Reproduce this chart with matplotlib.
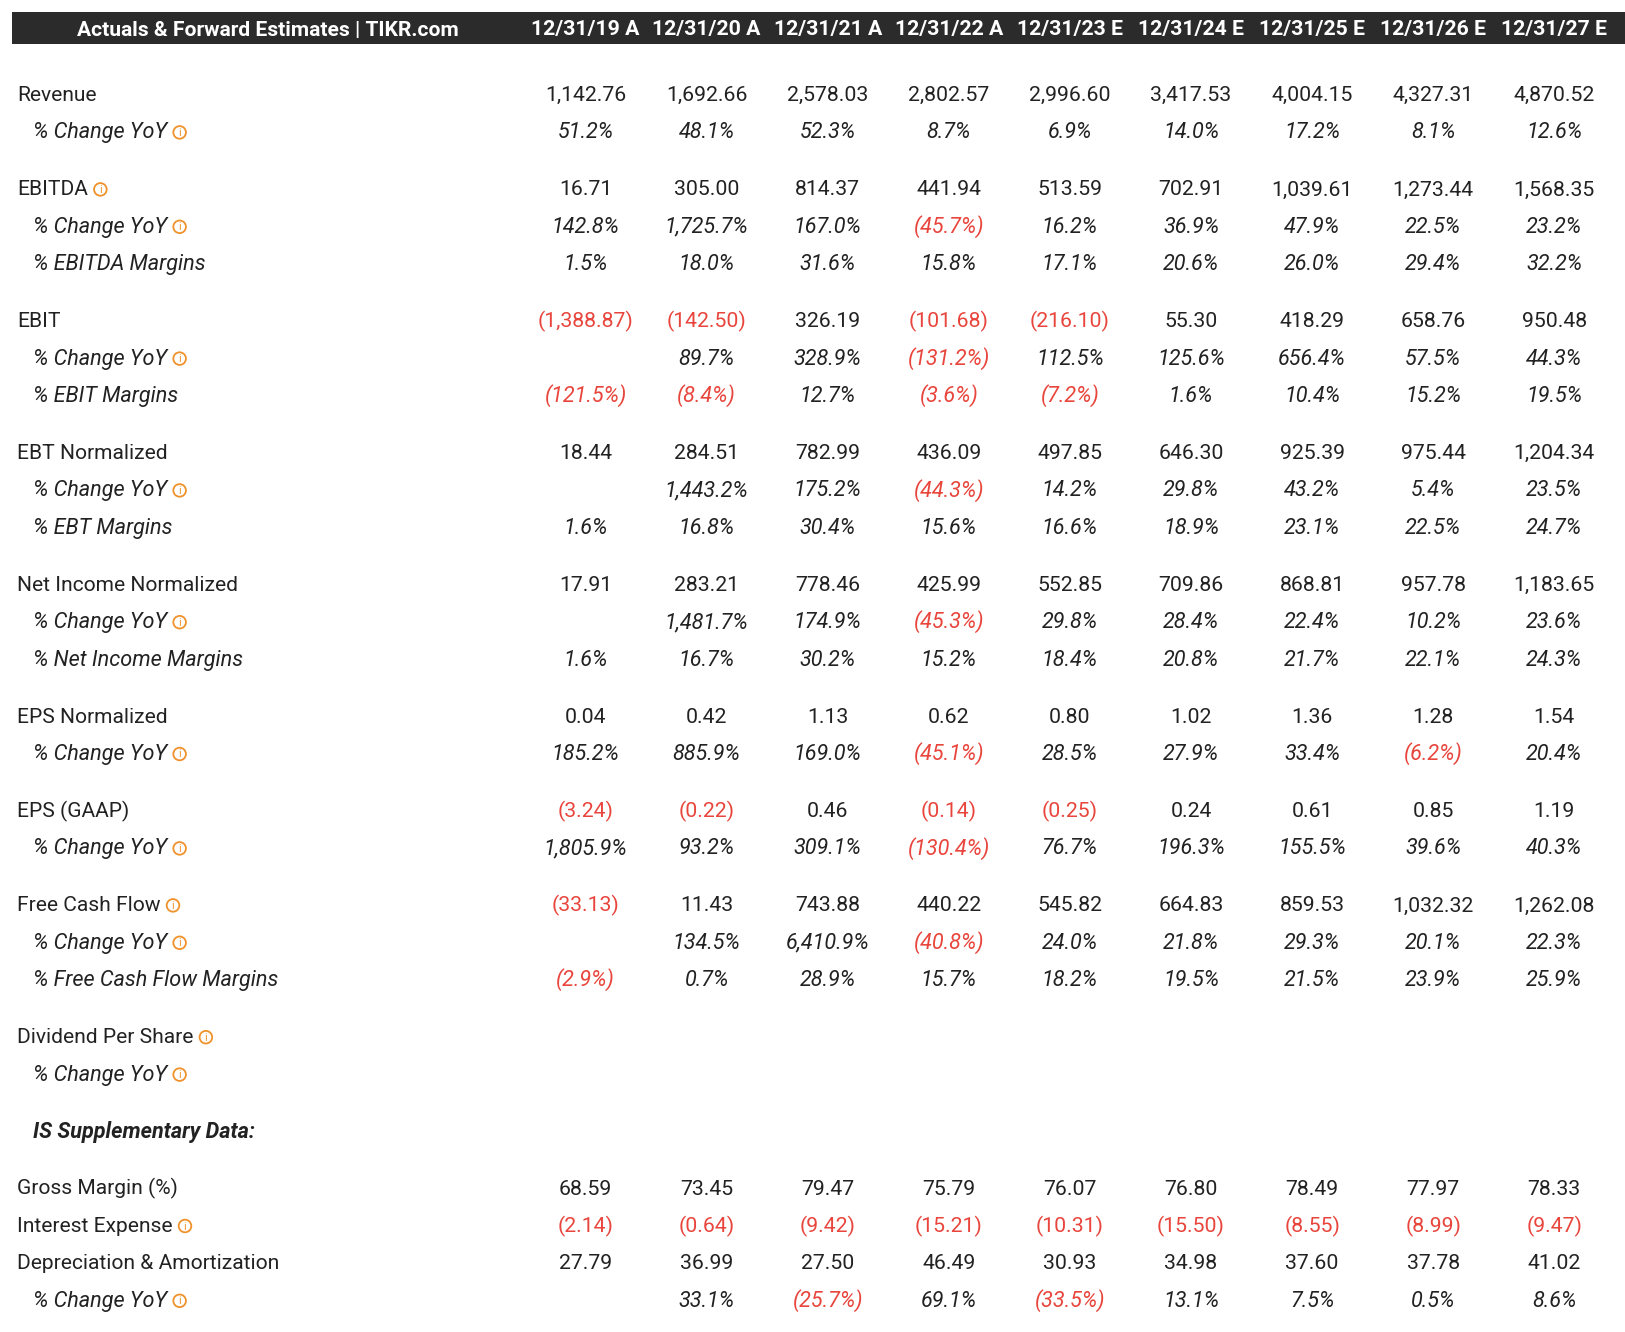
import matplotlib
matplotlib.use("Agg")
import matplotlib.pyplot as plt
from matplotlib.patches import Rectangle, Circle

# ---------------- data ----------------
title = "Actuals & Forward Estimates | TIKR.com"
periods = ["12/31/19 A", "12/31/20 A", "12/31/21 A", "12/31/22 A", "12/31/23 E",
           "12/31/24 E", "12/31/25 E", "12/31/26 E", "12/31/27 E"]

revenue = [1142.76, 1692.66, 2578.03, 2802.57, 2996.60, 3417.53, 4004.15, 4327.31, 4870.52]
revenue_yoy = [51.2, 48.1, 52.3, 8.7, 6.9, 14.0, 17.2, 8.1, 12.6]
ebitda = [16.71, 305.00, 814.37, 441.94, 513.59, 702.91, 1039.61, 1273.44, 1568.35]
ebitda_yoy = [142.8, 1725.7, 167.0, -45.7, 16.2, 36.9, 47.9, 22.5, 23.2]
ebitda_margin = [1.5, 18.0, 31.6, 15.8, 17.1, 20.6, 26.0, 29.4, 32.2]
ebit = [-1388.87, -142.50, 326.19, -101.68, -216.10, 55.30, 418.29, 658.76, 950.48]
ebit_yoy = [None, 89.7, 328.9, -131.2, 112.5, 125.6, 656.4, 57.5, 44.3]
ebit_margin = [-121.5, -8.4, 12.7, -3.6, -7.2, 1.6, 10.4, 15.2, 19.5]
ebt_norm = [18.44, 284.51, 782.99, 436.09, 497.85, 646.30, 925.39, 975.44, 1204.34]
ebt_yoy = [None, 1443.2, 175.2, -44.3, 14.2, 29.8, 43.2, 5.4, 23.5]
ebt_margin = [1.6, 16.8, 30.4, 15.6, 16.6, 18.9, 23.1, 22.5, 24.7]
ni_norm = [17.91, 283.21, 778.46, 425.99, 552.85, 709.86, 868.81, 957.78, 1183.65]
ni_yoy = [None, 1481.7, 174.9, -45.3, 29.8, 28.4, 22.4, 10.2, 23.6]
ni_margin = [1.6, 16.7, 30.2, 15.2, 18.4, 20.8, 21.7, 22.1, 24.3]
eps_norm = [0.04, 0.42, 1.13, 0.62, 0.80, 1.02, 1.36, 1.28, 1.54]
eps_norm_yoy = [185.2, 885.9, 169.0, -45.1, 28.5, 27.9, 33.4, -6.2, 20.4]
eps_gaap = [-3.24, -0.22, 0.46, -0.14, -0.25, 0.24, 0.61, 0.85, 1.19]
eps_gaap_yoy = [1805.9, 93.2, 309.1, -130.4, 76.7, 196.3, 155.5, 39.6, 40.3]
fcf = [-33.13, 11.43, 743.88, 440.22, 545.82, 664.83, 859.53, 1032.32, 1262.08]
fcf_yoy = [None, 134.5, 6410.9, -40.8, 24.0, 21.8, 29.3, 20.1, 22.3]
fcf_margin = [-2.9, 0.7, 28.9, 15.7, 18.2, 19.5, 21.5, 23.9, 25.9]
dps = [None] * 9
dps_yoy = [None] * 9
gross_margin = [68.59, 73.45, 79.47, 75.79, 76.07, 76.80, 78.49, 77.97, 78.33]
interest_expense = [-2.14, -0.64, -9.42, -15.21, -10.31, -15.50, -8.55, -8.99, -9.47]
dna = [27.79, 36.99, 27.50, 46.49, 30.93, 34.98, 37.60, 37.78, 41.02]
dna_yoy = [None, 33.1, -25.7, 69.1, -33.5, 13.1, 7.5, 0.5, 8.6]

# (label, values, kind, new_group, info_icon)
rows = [
    ("Revenue", revenue, "num", True, False),
    ("% Change YoY", revenue_yoy, "pct", False, True),
    ("EBITDA", ebitda, "num", True, True),
    ("% Change YoY", ebitda_yoy, "pct", False, True),
    ("% EBITDA Margins", ebitda_margin, "pct", False, False),
    ("EBIT", ebit, "num", True, False),
    ("% Change YoY", ebit_yoy, "pct", False, True),
    ("% EBIT Margins", ebit_margin, "pct", False, False),
    ("EBT Normalized", ebt_norm, "num", True, False),
    ("% Change YoY", ebt_yoy, "pct", False, True),
    ("% EBT Margins", ebt_margin, "pct", False, False),
    ("Net Income Normalized", ni_norm, "num", True, False),
    ("% Change YoY", ni_yoy, "pct", False, True),
    ("% Net Income Margins", ni_margin, "pct", False, False),
    ("EPS Normalized", eps_norm, "num", True, False),
    ("% Change YoY", eps_norm_yoy, "pct", False, True),
    ("EPS (GAAP)", eps_gaap, "num", True, False),
    ("% Change YoY", eps_gaap_yoy, "pct", False, True),
    ("Free Cash Flow", fcf, "num", True, True),
    ("% Change YoY", fcf_yoy, "pct", False, True),
    ("% Free Cash Flow Margins", fcf_margin, "pct", False, False),
    ("Dividend Per Share", dps, "num", True, True),
    ("% Change YoY", dps_yoy, "pct", False, True),
    ("IS Supplementary Data:", None, "hdr", True, False),
    ("Gross Margin (%)", gross_margin, "num", True, False),
    ("Interest Expense", interest_expense, "num", False, True),
    ("Depreciation & Amortization", dna, "num", False, False),
    ("% Change YoY", dna_yoy, "pct", False, True),
]

# ---------------- style ----------------
W, H = 1625, 1332
FONT = "Roboto"
FS = 15.3
FS_LBL = 15.1
FS_IT = 15.6
FS_HDR = 15.3
FS_TITLE = 15.1
TXT = "#222222"
RED = "#e8453c"
ORANGE = "#f0922b"
BAR = "#2b2b2b"

col_x0, col_dx = 585.5, 121.1
first_row_y, row_dy, group_dy = 93.5, 37.4, 57.0
cap_half = 7.5

fig = plt.figure(figsize=(W / 100, H / 100), dpi=100)
ax = fig.add_axes([0, 0, 1, 1])
ax.set_xlim(0, W)
ax.set_ylim(H, 0)
ax.axis("off")

# header bar
ax.add_patch(Rectangle((12, 12), W - 12, 31.5, facecolor=BAR, edgecolor="none"))
ax.text(268, 28 + cap_half, title, color="white", fontsize=FS_TITLE, fontweight="bold",
        family=FONT, ha="center", va="baseline")
for i, p in enumerate(periods):
    ax.text(col_x0 + i * col_dx, 28 + cap_half, p, color="white", fontsize=FS_HDR,
            fontweight="bold", family=FONT, ha="center", va="baseline")


def fmt(v, kind):
    if v is None:
        return "", TXT
    a = abs(v)
    s = f"{a:,.1f}%" if kind == "pct" else f"{a:,.2f}"
    if v < 0:
        return f"({s})", RED
    return s, TXT


renderer = fig.canvas.get_renderer()
inv = ax.transData.inverted()

y = first_row_y
for r, (label, vals, kind, new_group, info) in enumerate(rows):
    if r > 0:
        y += group_dy if new_group else row_dy
    if kind == "hdr":
        ax.text(33, y + cap_half, label, color=TXT, fontsize=FS_IT, fontstyle="italic",
                fontweight="bold", family=FONT, ha="left", va="baseline")
        continue
    if kind == "pct":
        t = ax.text(33, y + cap_half, label, color=TXT, fontsize=FS_IT, fontstyle="italic",
                    family=FONT, ha="left", va="baseline")
    else:
        t = ax.text(17, y + cap_half, label, color=TXT, fontsize=FS_LBL,
                    family=FONT, ha="left", va="baseline")
    if info:
        bb = t.get_window_extent(renderer)
        x_end = inv.transform((bb.x1, bb.y0))[0]
        cx = x_end + 12.5
        cy = y + 1.5
        ax.add_patch(Circle((cx, cy), 6.3, facecolor="none", edgecolor=ORANGE, lw=1.3))
        ax.text(cx, cy + 0.5, "i", color=ORANGE, fontsize=7.8, family=FONT,
                ha="center", va="center")
    for i, v in enumerate(vals):
        s, c = fmt(v, kind)
        if not s:
            continue
        ax.text(col_x0 + i * col_dx, y + cap_half, s, color=c,
                fontsize=FS_IT if kind == "pct" else FS,
                fontstyle="italic" if kind == "pct" else "normal",
                family=FONT, ha="center", va="baseline")

fig.savefig("out.png", dpi=100, facecolor="white")
